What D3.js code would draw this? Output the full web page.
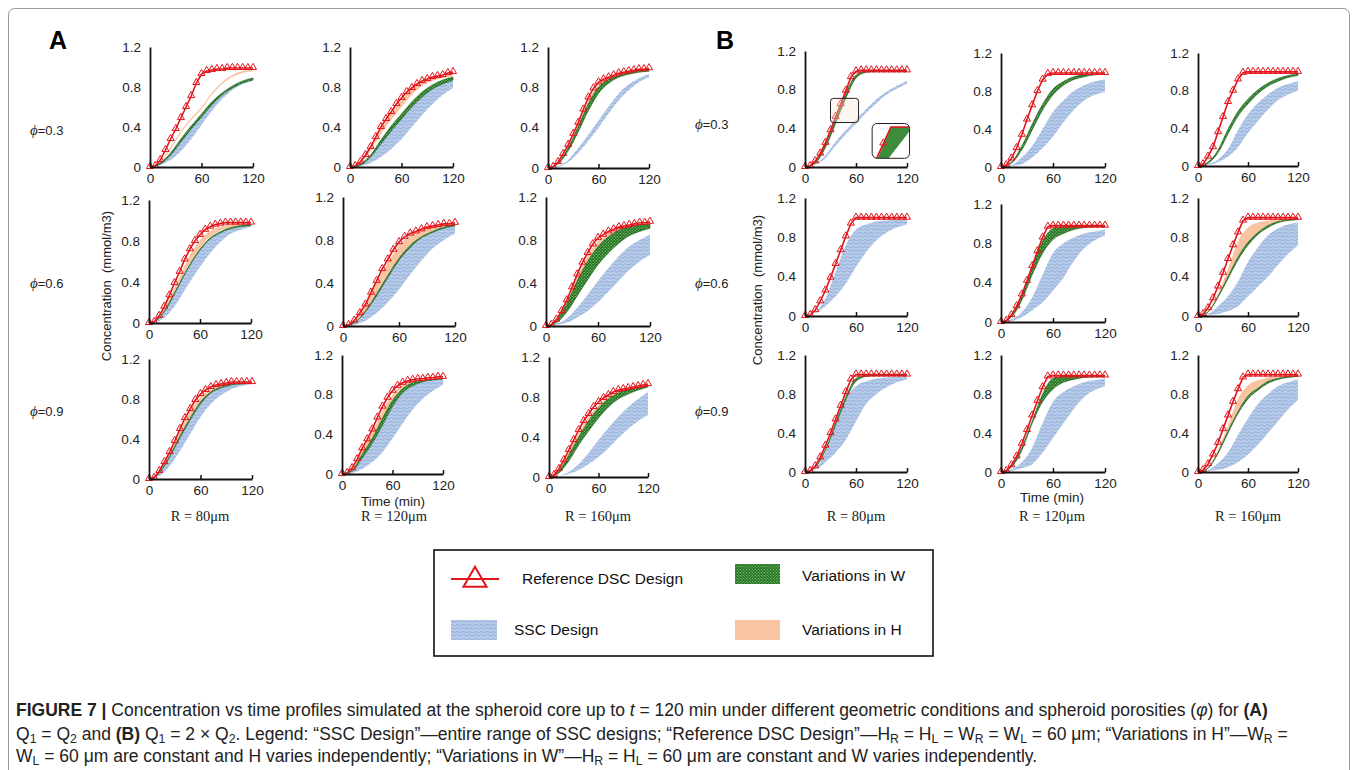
<!DOCTYPE html>
<html>
<head>
<meta charset="utf-8">
<script src="https://cdn.jsdelivr.net/npm/d3@7"></script>
<style>
  body { margin: 0; background: #fff; }
</style>
</head>
<body>
<svg id="fig" width="1356" height="770" font-family="'Liberation Sans', Arial, sans-serif"></svg>
<script>
// ---- data ----
const tRef = [0, 6, 12, 18, 24, 30, 36, 42, 48, 54, 60, 66, 72, 78, 84, 90, 96, 102, 108, 114, 120];
const tBand = [0, 12, 24, 36, 48, 60, 72, 84, 96, 108, 120];
const xTicks = [0, 60, 120];
const yTicks = [0, 0.4, 0.8, 1.2];
const phiLabels = ['0.3', '0.6', '0.9'];
const radiusLabels = ['R = 80\u03bcm', 'R = 120\u03bcm', 'R = 160\u03bcm'];
const panelNames = ['A11', 'A12', 'A13', 'A21', 'A22', 'A23', 'A31', 'A32', 'A33',
                    'B11', 'B12', 'B13', 'B21', 'B22', 'B23', 'B31', 'B32', 'B33'];

// Reference DSC design (red line with triangles), sampled every 6 min
const refLine = [
  [0,0.01,0.07,0.17,0.28,0.38,0.49,0.6,0.71,0.84,0.93,0.96,0.97,0.98,0.98,0.99,0.99,0.99,0.99,0.99,0.99],
  [0,0.01,0.05,0.12,0.2,0.3,0.4,0.48,0.55,0.63,0.69,0.75,0.79,0.83,0.86,0.88,0.9,0.91,0.92,0.94,0.95],
  [0,0.01,0.06,0.14,0.23,0.34,0.45,0.58,0.7,0.79,0.85,0.88,0.9,0.92,0.94,0.95,0.96,0.97,0.98,0.98,0.99],
  [0,0.01,0.07,0.16,0.27,0.39,0.5,0.62,0.72,0.8,0.86,0.91,0.94,0.96,0.97,0.98,0.98,0.98,0.98,0.98,0.98],
  [0,0.01,0.05,0.12,0.2,0.31,0.42,0.53,0.62,0.71,0.78,0.83,0.86,0.88,0.9,0.92,0.93,0.94,0.95,0.95,0.96],
  [0,0.01,0.06,0.14,0.24,0.36,0.48,0.59,0.68,0.76,0.82,0.85,0.88,0.9,0.92,0.93,0.94,0.95,0.96,0.96,0.97],
  [0,0.01,0.08,0.17,0.27,0.38,0.5,0.61,0.7,0.79,0.85,0.89,0.92,0.94,0.95,0.96,0.97,0.97,0.97,0.97,0.97],
  [0,0.01,0.06,0.15,0.26,0.35,0.45,0.57,0.68,0.77,0.84,0.89,0.92,0.94,0.95,0.96,0.96,0.97,0.97,0.98,0.98],
  [0,0.02,0.08,0.17,0.27,0.37,0.47,0.56,0.63,0.7,0.75,0.79,0.82,0.85,0.87,0.88,0.89,0.9,0.91,0.92,0.93],
  [0,0.01,0.06,0.14,0.25,0.38,0.52,0.65,0.79,0.93,0.99,1,1,1,1,1,1,1,1,1,1],
  [0,0.02,0.09,0.2,0.34,0.5,0.65,0.8,0.92,0.98,0.99,0.99,0.99,0.99,0.99,0.99,0.99,0.99,0.99,0.99,0.99],
  [0,0.02,0.1,0.2,0.36,0.52,0.68,0.8,0.92,0.99,1,1,1,1,1,1,1,1,1,1,1],
  [0,0.01,0.06,0.15,0.26,0.39,0.53,0.67,0.81,0.94,1,1,1,1,1,1,1,1,1,1,1],
  [0,0.01,0.07,0.16,0.28,0.42,0.57,0.72,0.86,0.97,0.98,0.98,0.98,0.98,0.98,0.98,0.98,0.98,0.98,0.98,0.98],
  [0,0.02,0.08,0.18,0.3,0.44,0.58,0.72,0.85,0.97,1,1,1,1,1,1,1,1,1,1,1],
  [0,0.01,0.06,0.15,0.27,0.4,0.54,0.68,0.82,0.95,1,1,1,1,1,1,1,1,1,1,1],
  [0,0.01,0.07,0.16,0.29,0.43,0.58,0.73,0.87,0.98,0.99,0.99,0.99,0.99,0.99,0.99,0.99,0.99,0.99,0.99,0.99],
  [0,0.02,0.08,0.18,0.3,0.44,0.58,0.72,0.85,0.97,1,1,1,1,1,1,1,1,1,1,1]
];

// SSC design envelope (every 12 min)
const sscLow = [
  [0,0.02,0.07,0.16,0.28,0.42,0.56,0.68,0.77,0.83,0.86],
  [0,0.01,0.04,0.1,0.18,0.28,0.4,0.52,0.63,0.72,0.79],
  [0,0.01,0.06,0.15,0.27,0.4,0.54,0.67,0.77,0.85,0.9],
  [0,0.02,0.1,0.24,0.4,0.55,0.68,0.79,0.87,0.91,0.94],
  [0,0.01,0.05,0.12,0.22,0.34,0.48,0.61,0.72,0.8,0.86],
  [0,0.01,0.03,0.08,0.14,0.22,0.32,0.42,0.52,0.6,0.66],
  [0,0.03,0.13,0.28,0.45,0.62,0.75,0.84,0.9,0.93,0.95],
  [0,0.01,0.05,0.12,0.22,0.36,0.51,0.65,0.76,0.84,0.9],
  [0,0.01,0.03,0.07,0.13,0.2,0.29,0.39,0.48,0.56,0.62],
  [0,0.02,0.09,0.22,0.34,0.45,0.56,0.66,0.75,0.81,0.86],
  [0,0.01,0.03,0.1,0.2,0.32,0.47,0.6,0.7,0.76,0.79],
  [0,0.01,0.04,0.1,0.2,0.35,0.48,0.6,0.7,0.76,0.8],
  [0,0.03,0.1,0.2,0.33,0.5,0.65,0.77,0.85,0.9,0.93],
  [0,0.01,0.05,0.12,0.2,0.32,0.45,0.62,0.75,0.83,0.88],
  [0,0.01,0.02,0.05,0.1,0.2,0.3,0.4,0.52,0.63,0.72],
  [0,0.02,0.1,0.2,0.33,0.52,0.7,0.8,0.87,0.92,0.95],
  [0,0.01,0.04,0.08,0.2,0.35,0.5,0.65,0.77,0.84,0.88],
  [0,0.01,0.02,0.05,0.1,0.18,0.28,0.4,0.52,0.64,0.74]
];
const sscHigh = [
  [0,0.04,0.13,0.27,0.4,0.52,0.64,0.73,0.8,0.85,0.88],
  [0,0.03,0.12,0.26,0.4,0.52,0.64,0.74,0.81,0.86,0.89],
  [0,0.02,0.08,0.2,0.33,0.47,0.61,0.74,0.83,0.89,0.93],
  [0,0.05,0.19,0.38,0.56,0.71,0.82,0.88,0.92,0.94,0.95],
  [0,0.03,0.13,0.28,0.45,0.61,0.73,0.82,0.87,0.91,0.93],
  [0,0.02,0.07,0.17,0.29,0.42,0.54,0.65,0.74,0.8,0.85],
  [0,0.06,0.22,0.41,0.59,0.75,0.86,0.91,0.94,0.95,0.96],
  [0,0.03,0.16,0.31,0.49,0.68,0.82,0.89,0.93,0.95,0.96],
  [0,0.01,0.05,0.13,0.24,0.37,0.49,0.6,0.7,0.78,0.85],
  [0,0.03,0.12,0.26,0.38,0.49,0.6,0.7,0.78,0.84,0.89],
  [0,0.02,0.1,0.22,0.4,0.58,0.7,0.8,0.86,0.9,0.92],
  [0,0.02,0.07,0.18,0.38,0.55,0.67,0.76,0.83,0.87,0.9],
  [0,0.04,0.18,0.45,0.72,0.88,0.93,0.96,0.97,0.98,0.98],
  [0,0.03,0.1,0.25,0.48,0.7,0.8,0.86,0.9,0.92,0.94],
  [0,0.02,0.1,0.2,0.35,0.55,0.7,0.82,0.89,0.93,0.95],
  [0,0.04,0.2,0.48,0.75,0.88,0.93,0.96,0.97,0.98,0.98],
  [0,0.03,0.1,0.25,0.5,0.72,0.82,0.88,0.92,0.94,0.96],
  [0,0.02,0.09,0.2,0.38,0.55,0.7,0.8,0.88,0.92,0.95]
];

// Variations in W (green dotted band), null where not visible
const wLow = [
  [0,0.03,0.12,0.25,0.38,0.5,0.62,0.72,0.79,0.84,0.87],
  [0,0.02,0.1,0.23,0.36,0.48,0.6,0.7,0.78,0.83,0.87],
  [0,0.04,0.17,0.36,0.57,0.74,0.84,0.9,0.93,0.95,0.96],
  [0,0.05,0.19,0.38,0.56,0.71,0.82,0.88,0.92,0.94,0.95],
  [0,0.03,0.13,0.28,0.45,0.61,0.73,0.82,0.87,0.91,0.93],
  [0,0.03,0.13,0.28,0.43,0.57,0.68,0.77,0.84,0.88,0.91],
  [0,0.06,0.22,0.41,0.59,0.75,0.86,0.91,0.94,0.95,0.96],
  [0,0.03,0.16,0.31,0.49,0.68,0.82,0.89,0.93,0.95,0.96],
  [0,0.04,0.16,0.32,0.46,0.59,0.7,0.78,0.83,0.87,0.9],
  [0,0.04,0.2,0.45,0.71,0.92,0.98,0.99,0.99,0.99,0.99],
  [0,0.04,0.18,0.39,0.6,0.76,0.86,0.92,0.95,0.97,0.98],
  [0,0.03,0.14,0.34,0.53,0.66,0.77,0.85,0.9,0.94,0.96],
  null,
  [0,0.05,0.22,0.48,0.7,0.84,0.9,0.94,0.96,0.97,0.97],
  [0,0.04,0.19,0.38,0.57,0.72,0.83,0.9,0.95,0.97,0.98],
  [0,0.05,0.22,0.48,0.74,0.93,0.98,0.99,0.99,0.99,0.99],
  [0,0.05,0.22,0.5,0.72,0.85,0.92,0.95,0.97,0.98,0.98],
  [0,0.04,0.19,0.4,0.6,0.75,0.84,0.91,0.95,0.97,0.98]
];
const wHigh = [
  [0,0.04,0.14,0.28,0.41,0.53,0.65,0.74,0.81,0.86,0.89],
  [0,0.03,0.12,0.27,0.41,0.53,0.65,0.75,0.82,0.87,0.9],
  [0,0.05,0.2,0.41,0.64,0.8,0.88,0.92,0.95,0.97,0.98],
  [0,0.05,0.2,0.39,0.57,0.72,0.83,0.89,0.93,0.95,0.96],
  [0,0.03,0.14,0.3,0.47,0.63,0.75,0.83,0.88,0.92,0.94],
  [0,0.05,0.21,0.42,0.6,0.74,0.83,0.89,0.92,0.94,0.95],
  [0,0.06,0.23,0.43,0.61,0.77,0.87,0.92,0.95,0.96,0.96],
  [0,0.04,0.2,0.36,0.56,0.74,0.86,0.92,0.94,0.95,0.96],
  [0,0.06,0.22,0.4,0.56,0.69,0.78,0.84,0.87,0.89,0.91],
  [0,0.05,0.23,0.49,0.76,0.95,0.99,0.99,0.99,0.99,0.99],
  [0,0.05,0.22,0.45,0.66,0.82,0.9,0.95,0.97,0.98,0.98],
  [0,0.04,0.17,0.39,0.58,0.71,0.81,0.88,0.93,0.96,0.98],
  null,
  [0,0.06,0.27,0.55,0.82,0.95,0.97,0.98,0.98,0.98,0.98],
  [0,0.04,0.2,0.4,0.6,0.75,0.85,0.92,0.96,0.98,0.99],
  [0,0.05,0.23,0.5,0.77,0.96,0.99,0.99,0.99,0.99,0.99],
  [0,0.06,0.25,0.52,0.8,0.96,0.98,0.99,0.99,0.99,0.99],
  [0,0.04,0.2,0.42,0.62,0.78,0.86,0.93,0.96,0.98,0.99]
];

// Variations in H (peach band), null where not visible
const hLow = [
  [0,0.04,0.18,0.34,0.47,0.58,0.72,0.83,0.9,0.94,0.96],
  [0,0.04,0.16,0.33,0.47,0.6,0.72,0.81,0.86,0.89,0.91],
  [0,0.05,0.2,0.41,0.64,0.8,0.88,0.92,0.95,0.97,0.98],
  [0,0.05,0.2,0.4,0.58,0.73,0.84,0.9,0.93,0.95,0.96],
  [0,0.03,0.14,0.3,0.47,0.63,0.75,0.83,0.88,0.92,0.94],
  [0,0.05,0.21,0.42,0.6,0.74,0.83,0.89,0.92,0.94,0.95],
  [0,0.06,0.23,0.43,0.61,0.77,0.87,0.92,0.95,0.96,0.96],
  [0,0.04,0.2,0.36,0.56,0.74,0.86,0.92,0.94,0.95,0.96],
  [0,0.06,0.22,0.4,0.56,0.69,0.78,0.84,0.87,0.89,0.91],
  null, null, null, null, null,
  [0,0.04,0.2,0.4,0.6,0.75,0.85,0.92,0.96,0.98,0.99],
  null, null,
  [0,0.04,0.2,0.42,0.62,0.78,0.86,0.93,0.96,0.98,0.99]
];
const hHigh = [
  [0,0.05,0.2,0.36,0.49,0.6,0.74,0.85,0.92,0.96,0.97],
  [0,0.05,0.19,0.38,0.53,0.67,0.78,0.85,0.89,0.91,0.93],
  [0,0.05,0.21,0.43,0.67,0.83,0.89,0.93,0.95,0.97,0.98],
  [0,0.06,0.24,0.45,0.66,0.81,0.9,0.94,0.96,0.97,0.97],
  [0,0.05,0.19,0.4,0.59,0.75,0.84,0.89,0.92,0.94,0.95],
  [0,0.06,0.23,0.46,0.65,0.79,0.86,0.91,0.93,0.95,0.96],
  [0,0.07,0.26,0.48,0.67,0.82,0.9,0.94,0.96,0.96,0.97],
  [0,0.05,0.24,0.42,0.64,0.8,0.9,0.94,0.95,0.96,0.97],
  [0,0.07,0.25,0.44,0.6,0.72,0.8,0.85,0.88,0.9,0.92],
  null, null, null, null, null,
  [0,0.05,0.23,0.48,0.76,0.9,0.95,0.97,0.98,0.99,0.99],
  null, null,
  [0,0.05,0.23,0.48,0.75,0.89,0.94,0.97,0.98,0.99,0.99]
];

// ---- layout (pixel boxes per panel: x0, x120, y at 1.2, y at 0) ----
const boxes = [
  [150, 253, 47, 167], [350, 453, 47, 167], [548, 649, 47, 168],
  [149, 251, 200, 323], [343, 455, 197, 326], [546, 650, 197, 326],
  [149, 252, 359, 479], [342, 443, 355, 474], [549, 648, 357, 477],
  [805, 907, 51, 167], [1001, 1105, 53, 167], [1198, 1298, 53, 166],
  [805, 907, 198, 316], [1001, 1105, 204, 322], [1198, 1298, 198, 316],
  [805, 907, 355, 472], [1001, 1105, 355, 472], [1198, 1298, 355, 472]
];

const sans = "'Liberation Sans', Arial, sans-serif";
const serif = "'Liberation Serif', 'Times New Roman', serif";

const svg = d3.select('#fig');
const defs = svg.append('defs');

// SSC hatch: light blue with small waves
let p = defs.append('pattern').attr('id', 'sscPat').attr('patternUnits', 'userSpaceOnUse')
  .attr('width', 6).attr('height', 3.5);
p.append('rect').attr('width', 6).attr('height', 3.5).attr('fill', '#b9cdea');
p.append('path').attr('d', 'M0,2 q1.5,-1.6 3,0 t3,0').attr('fill', 'none')
  .attr('stroke', '#7596cd').attr('stroke-width', 0.7);

// W: dark green with light dots
p = defs.append('pattern').attr('id', 'wPat').attr('patternUnits', 'userSpaceOnUse')
  .attr('width', 3).attr('height', 3);
p.append('rect').attr('width', 3).attr('height', 3).attr('fill', '#236f23');
p.append('circle').attr('cx', 0.8).attr('cy', 0.8).attr('r', 0.65).attr('fill', '#8fd47a');
p.append('circle').attr('cx', 2.3).attr('cy', 2.3).attr('r', 0.65).attr('fill', '#8fd47a');

const hColor = '#f9c4a2';
const red = '#e3141b';
const tri = d3.symbol().type(d3.symbolTriangle).size(22);

// frame
svg.append('rect').attr('x', 8.5).attr('y', 8.5).attr('width', 1341).attr('height', 800)
  .attr('rx', 6).attr('fill', 'none').attr('stroke', '#9a9a9a');

panelNames.forEach((name, i) => {
  const b = boxes[i];
  const x = d3.scaleLinear().domain([0, 120]).range([b[0], b[1]]);
  const y = d3.scaleLinear().domain([0, 1.2]).range([b[3], b[2]]);
  const g = svg.append('g').attr('class', 'panel ' + name);

  const band = (lo, hi) => d3.area()
    .x((d, k) => x(tBand[k]))
    .y0((d, k) => y(lo[k]))
    .y1((d, k) => y(hi[k]))
    .curve(d3.curveMonotoneX)(tBand);

  g.append('path').attr('d', band(sscLow[i], sscHigh[i])).attr('fill', 'url(#sscPat)');
  if (hLow[i]) g.append('path').attr('d', band(hLow[i], hHigh[i])).attr('fill', hColor);
  if (wLow[i]) g.append('path').attr('d', band(wLow[i], wHigh[i]))
    .attr('fill', 'url(#wPat)').attr('stroke', '#1d5e1d').attr('stroke-width', 0.6);

  const line = d3.line().x((d, k) => x(tRef[k])).y(d => y(d)).curve(d3.curveLinear);
  g.append('path').attr('d', line(refLine[i])).attr('fill', 'none')
    .attr('stroke', red).attr('stroke-width', 1.6);
  g.selectAll('.mk').data(refLine[i]).enter().append('path')
    .attr('class', 'mk')
    .attr('d', tri)
    .attr('transform', (d, k) => 'translate(' + x(tRef[k]) + ',' + (y(d) - 0.5) + ')')
    .attr('fill', 'none').attr('stroke', red).attr('stroke-width', 1);

  // axes
  const xAxis = d3.axisBottom(x).tickValues(xTicks).tickSize(-4).tickSizeOuter(0).tickPadding(6);
  const gx = g.append('g').attr('transform', 'translate(0,' + y(0) + ')').call(xAxis);
  const yAxis = d3.axisLeft(y).tickValues(yTicks).tickSize(0).tickPadding(9)
    .tickFormat(d => (d === 0 ? '0' : d.toFixed(1)));
  const gy = g.append('g').attr('transform', 'translate(' + x(0) + ',0)').call(yAxis);
  [gx, gy].forEach(a => {
    a.attr('font-family', sans).attr('font-size', 13.5);
    a.select('.domain').attr('stroke', '#111').attr('stroke-width', 1.8);
    a.selectAll('.tick line').attr('stroke', '#111').attr('stroke-width', 1.5);
    a.selectAll('text').attr('fill', '#222');
  });

  // zoom inset on first B panel
  if (name === 'B11') {
    g.append('rect').attr('x', x(30)).attr('y', y(0.71)).attr('width', x(63) - x(30))
      .attr('height', y(0.46) - y(0.71)).attr('rx', 3)
      .attr('fill', '#f7e6d8').attr('fill-opacity', 0.35).attr('stroke', '#222').attr('stroke-width', 1);
    const ix = d3.scaleLinear().domain([0, 1]).range([x(79), x(123)]);
    const iy = d3.scaleLinear().domain([0, 1]).range([y(0.45), y(0.09)]);
    defs.append('clipPath').attr('id', 'insetClip').append('rect')
      .attr('x', ix(0)).attr('y', iy(0)).attr('width', ix(1) - ix(0)).attr('height', iy(1) - iy(0)).attr('rx', 5);
    const ig = g.append('g').attr('clip-path', 'url(#insetClip)');
    ig.append('rect').attr('x', ix(0)).attr('y', iy(0)).attr('width', ix(1) - ix(0))
      .attr('height', iy(1) - iy(0)).attr('fill', '#fff');
    ig.append('path').attr('d', d3.line()([[ix(0.15), iy(1)], [ix(0.44), iy(1)], [ix(1), iy(0.22)], [ix(1), iy(0.1)], [ix(0.5), iy(0.1)]]) + 'Z')
      .attr('fill', '#3d8b3d');
    ig.append('path').attr('d', d3.line()([[ix(0.12), iy(1)], [ix(0.5), iy(0.1)], [ix(1), iy(0.1)]]))
      .attr('fill', 'none').attr('stroke', red).attr('stroke-width', 1.6);
    ig.append('path').attr('d', tri).attr('transform', 'translate(' + ix(0.3) + ',' + iy(0.56) + ')')
      .attr('fill', 'none').attr('stroke', red).attr('stroke-width', 1);
    g.append('rect').attr('x', ix(0)).attr('y', iy(0)).attr('width', ix(1) - ix(0))
      .attr('height', iy(1) - iy(0)).attr('rx', 5).attr('fill', 'none').attr('stroke', '#222').attr('stroke-width', 1);
  }
});

// panel letters
svg.append('text').attr('x', 49).attr('y', 49).attr('font-size', 25).attr('font-weight', 'bold').text('A');
svg.append('text').attr('x', 716).attr('y', 49).attr('font-size', 25).attr('font-weight', 'bold').text('B');

// porosity labels
const phiPos = [[30, [135, 288, 416]], [695, [129, 288, 416]]];
phiPos.forEach(pp => {
  phiLabels.forEach((v, r) => {
    const t = svg.append('text').attr('x', pp[0]).attr('y', pp[1][r]).attr('font-size', 13)
      .attr('fill', '#222');
    t.append('tspan').attr('font-family', serif).attr('font-style', 'italic')
      .attr('font-size', 15).text('\u03d5');
    t.append('tspan').text('=' + v);
  });
});

// radius labels
const rPos = [[200, 394, 598], [856, 1052, 1248]];
rPos.forEach(xs => xs.forEach((xv, c) => {
  svg.append('text').attr('x', xv).attr('y', 521).attr('text-anchor', 'middle')
    .attr('font-family', serif).attr('font-size', 14.5).attr('fill', '#222').text(radiusLabels[c]);
}));

// axis titles
[[111, 286], [762, 290]].forEach(pt => {
  svg.append('text').attr('transform', 'translate(' + pt[0] + ',' + pt[1] + ') rotate(-90)')
    .attr('text-anchor', 'middle').attr('font-size', 13).attr('fill', '#222')
    .attr('xml:space', 'preserve').text('Concentration  (mmol/m3)');
});
[[393, 506], [1052, 502]].forEach(pt => {
  svg.append('text').attr('x', pt[0]).attr('y', pt[1]).attr('text-anchor', 'middle')
    .attr('font-size', 13.5).attr('fill', '#222').text('Time (min)');
});

// legend
const lg = svg.append('g');
lg.append('rect').attr('x', 434).attr('y', 550).attr('width', 499).attr('height', 106)
  .attr('fill', '#fff').attr('stroke', '#111').attr('stroke-width', 1.6);
lg.append('line').attr('x1', 451).attr('x2', 499).attr('y1', 579).attr('y2', 579)
  .attr('stroke', red).attr('stroke-width', 2);
lg.append('path').attr('d', d3.symbol().type(d3.symbolTriangle).size(230))
  .attr('transform', 'translate(475,580)').attr('fill', 'none').attr('stroke', red).attr('stroke-width', 2);
lg.append('rect').attr('x', 735).attr('y', 564).attr('width', 45).attr('height', 20).attr('fill', 'url(#wPat)');
lg.append('rect').attr('x', 451).attr('y', 620).attr('width', 46).attr('height', 20).attr('fill', 'url(#sscPat)');
lg.append('rect').attr('x', 735).attr('y', 620).attr('width', 45).attr('height', 20).attr('fill', hColor);
[['Reference DSC Design', 522, 584], ['Variations in W', 802, 581], ['SSC Design', 514, 635], ['Variations in H', 802, 635]]
  .forEach(d => lg.append('text').attr('x', d[1]).attr('y', d[2]).attr('font-size', 15.5).attr('fill', '#111').text(d[0]));

// caption (condensed look: tall glyphs squeezed horizontally)
const capLines = [
  [['FIGURE 7 |', 'b'], [' Concentration vs time profiles simulated at the spheroid core up to '], ['t', 'i'],
   [' = 120 min under different geometric conditions and spheroid porosities ('], ['\u03c6', 'i'], [') for '], ['(A)', 'b']],
  [['Q'], ['1', 's'], [' = Q'], ['2', 's'], [' and '], ['(B)', 'b'], [' Q'], ['1', 's'], [' = 2 \u00d7 Q'], ['2', 's'],
   ['. Legend: \u201cSSC Design\u201d\u2014entire range of SSC designs; \u201cReference DSC Design\u201d\u2014H'], ['R', 's'],
   [' = H'], ['L', 's'], [' = W'], ['R', 's'], [' = W'], ['L', 's'], [' = 60 \u03bcm; \u201cVariations in H\u201d\u2014W'], ['R', 's'], [' =']],
  [['W'], ['L', 's'], [' = 60 \u03bcm are constant and H varies independently; \u201cVariations in W\u201d\u2014H'], ['R', 's'],
   [' = H'], ['L', 's'], [' = 60 \u03bcm are constant and W varies independently.']]
];
const capSize = 17.5;
function capLine(segs, yv, sx) {
  const t = svg.append('text').attr('transform', 'translate(16,' + yv + ') scale(' + sx + ',1)')
    .attr('font-size', capSize).attr('fill', '#222').attr('xml:space', 'preserve');
  segs.forEach(s => {
    const ts = t.append('tspan').text(s[0]);
    if (s[1] === 'b') ts.attr('font-weight', 'bold');
    if (s[1] === 'i') ts.attr('font-style', 'italic');
    if (s[1] === 's') ts.attr('font-size', capSize * 0.7).attr('baseline-shift', '-2.5');
  });
  return t;
}
const probe = capLine(capLines[0], 716, 1);
const capScale = Math.min(1, 1276 / probe.node().getComputedTextLength());
probe.remove();
[716, 740, 762].forEach((yv, k) => capLine(capLines[k], yv, capScale));
</script>
</body>
</html>
